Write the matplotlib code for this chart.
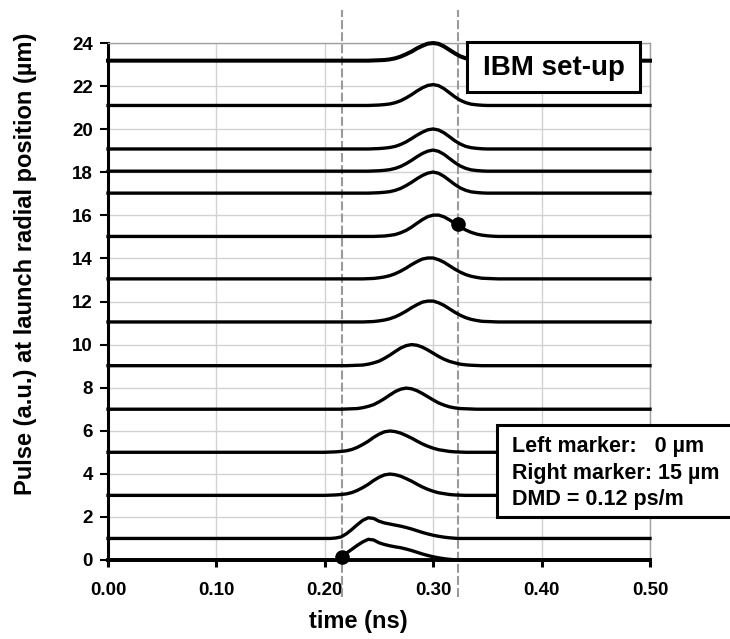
import numpy as np
import matplotlib.pyplot as plt
from matplotlib.patches import Rectangle

plt.rcParams['font.family'] = ['Liberation Sans', 'DejaVu Sans']
plt.rcParams['font.weight'] = 'bold'

# sample times (ns) across the pulse window, the rest of each trace is flat
t_win = [0.200, 0.205, 0.210, 0.215, 0.220, 0.225, 0.230, 0.235, 0.240, 0.245,
         0.250, 0.255, 0.260, 0.265, 0.270, 0.275, 0.280, 0.285, 0.290, 0.295,
         0.300, 0.305, 0.310, 0.315, 0.320, 0.325, 0.330, 0.335, 0.340, 0.345,
         0.350, 0.355, 0.360]
t_start, t_end = 0.0, 0.5

# launch radial positions (um) and the baseline each trace sits on
positions = [0, 1, 3, 5, 7, 9, 11, 13, 15, 17, 18, 19, 21, 23]
baselines = [0.0, 1.0, 3.0, 5.0, 7.0, 9.02, 11.05, 13.05, 15.02, 17.03, 18.05, 19.08, 21.1, 23.18]

# pulse height (a.u.) above baseline at t_win
pulse_0 = [0, 0, 0, 0.12, 0.32, 0.50, 0.68, 0.84, 0.96, 0.93, 0.80, 0.72, 0.66, 0.61, 0.57, 0.51, 0.44,
           0.36, 0.28, 0.21, 0.15, 0.10, 0.06, 0.03, 0.01, 0, 0, 0, 0, 0, 0, 0, 0]
pulse_1 = [0, 0, 0.02, 0.07, 0.22, 0.42, 0.64, 0.84, 0.96, 0.93, 0.80, 0.72, 0.67, 0.62, 0.57, 0.51, 0.44,
           0.36, 0.28, 0.21, 0.15, 0.10, 0.06, 0.03, 0.01, 0, 0, 0, 0, 0, 0, 0, 0]
pulse_3 = [0, 0.01, 0.02, 0.04, 0.07, 0.13, 0.23, 0.36, 0.51, 0.69, 0.84, 0.95, 0.99, 0.96, 0.89, 0.78, 0.66,
           0.52, 0.39, 0.28, 0.19, 0.12, 0.08, 0.04, 0.02, 0.01, 0, 0, 0, 0, 0, 0, 0]
pulse_5 = [0, 0.01, 0.02, 0.04, 0.07, 0.13, 0.23, 0.36, 0.51, 0.69, 0.84, 0.95, 0.99, 0.96, 0.89, 0.78, 0.66,
           0.52, 0.39, 0.28, 0.19, 0.12, 0.08, 0.04, 0.02, 0.01, 0, 0, 0, 0, 0, 0, 0]
pulse_7 = [0, 0, 0, 0, 0.01, 0.02, 0.03, 0.07, 0.13, 0.21, 0.34, 0.49, 0.66, 0.82, 0.93, 0.98, 0.95,
           0.86, 0.73, 0.58, 0.43, 0.29, 0.19, 0.11, 0.06, 0.03, 0.02, 0.01, 0, 0, 0, 0, 0]
pulse_9 = [0, 0, 0, 0, 0, 0.01, 0.02, 0.03, 0.07, 0.13, 0.21, 0.34, 0.49, 0.66, 0.82, 0.93, 0.98,
           0.95, 0.86, 0.73, 0.58, 0.43, 0.30, 0.20, 0.13, 0.07, 0.04, 0.02, 0.01, 0, 0, 0, 0]
pulse_11 = [0, 0, 0, 0, 0, 0, 0, 0, 0.01, 0.02, 0.05, 0.09, 0.15, 0.24, 0.36, 0.50, 0.66,
            0.80, 0.92, 0.97, 0.97, 0.89, 0.77, 0.61, 0.45, 0.31, 0.20, 0.12, 0.07, 0.03, 0.02, 0.01, 0]
pulse_13 = [0, 0, 0, 0, 0, 0, 0, 0, 0.01, 0.02, 0.05, 0.09, 0.15, 0.24, 0.36, 0.50, 0.66,
            0.80, 0.92, 0.97, 0.97, 0.89, 0.77, 0.61, 0.45, 0.31, 0.20, 0.12, 0.07, 0.03, 0.02, 0.01, 0]
pulse_15 = [0, 0, 0, 0, 0, 0, 0, 0, 0, 0, 0.01, 0.02, 0.05, 0.09, 0.17, 0.28, 0.43,
            0.61, 0.78, 0.92, 0.99, 0.99, 0.91, 0.77, 0.61, 0.44, 0.30, 0.19, 0.11, 0.06, 0.03, 0.01, 0]
pulse_17 = [0, 0, 0, 0, 0, 0, 0, 0, 0, 0.01, 0.02, 0.04, 0.07, 0.13, 0.22, 0.35, 0.50,
            0.67, 0.82, 0.93, 0.98, 0.92, 0.78, 0.59, 0.40, 0.24, 0.13, 0.06, 0.03, 0.01, 0, 0, 0]
pulse_18 = [0, 0, 0, 0, 0, 0, 0, 0, 0, 0.01, 0.02, 0.04, 0.07, 0.13, 0.22, 0.35, 0.50,
            0.67, 0.82, 0.93, 0.98, 0.92, 0.78, 0.59, 0.40, 0.24, 0.13, 0.06, 0.03, 0.01, 0, 0, 0]
pulse_19 = [0, 0, 0, 0, 0, 0, 0, 0, 0, 0.01, 0.02, 0.04, 0.07, 0.12, 0.21, 0.33, 0.48,
            0.64, 0.78, 0.89, 0.93, 0.88, 0.75, 0.57, 0.38, 0.23, 0.12, 0.06, 0.03, 0.01, 0, 0, 0]
pulse_21 = [0, 0, 0, 0, 0, 0, 0, 0, 0, 0.01, 0.02, 0.04, 0.07, 0.13, 0.22, 0.35, 0.50,
            0.67, 0.82, 0.93, 0.97, 0.92, 0.78, 0.59, 0.40, 0.24, 0.13, 0.06, 0.03, 0.01, 0, 0, 0]
pulse_23 = [0, 0, 0, 0, 0, 0, 0, 0, 0, 0.01, 0.02, 0.03, 0.06, 0.11, 0.19, 0.30, 0.42,
            0.57, 0.69, 0.79, 0.82, 0.78, 0.66, 0.50, 0.34, 0.20, 0.11, 0.05, 0.03, 0.01, 0, 0, 0]

pulses = [pulse_0, pulse_1, pulse_3, pulse_5, pulse_7, pulse_9, pulse_11, pulse_13,
          pulse_15, pulse_17, pulse_18, pulse_19, pulse_21, pulse_23]

# DMD markers (time ns, trace level) and their guide lines
marker_t = [0.216, 0.3226]
marker_y = [0.15, 15.6]

x_ticks = [0.0, 0.1, 0.2, 0.3, 0.4, 0.5]
y_ticks = [0, 2, 4, 6, 8, 10, 12, 14, 16, 18, 20, 22, 24]

W, H = 730, 639
fig = plt.figure(figsize=(W / 100, H / 100), dpi=100)
ax = fig.add_axes([108 / W, 1 - 560 / H, 542 / W, 517 / H])

t_full = np.array([t_start] + t_win + [t_end])
for pos, base, p in zip(positions, baselines, pulses):
    y = base + np.array([0] + p + [0])
    lw = 2.9 if pos == 23 else 2.4
    ax.plot(t_full, y, color='black', lw=lw, zorder=3, clip_on=False)

for t in marker_t:
    ax.axvline(t, ymin=-0.072, ymax=1.064, color='#9a9a9a', lw=1.5,
               dashes=(4.3, 1.5), clip_on=False, zorder=2)
ax.plot(marker_t, marker_y, 'o', color='black', ms=9.5, zorder=5, clip_on=False)

ax.set_xlim(0, 0.5)
ax.set_ylim(0, 24)
ax.set_xticks(x_ticks)
ax.set_xticklabels([f'{v:.2f}' for v in x_ticks])
ax.set_yticks(y_ticks)
ax.grid(True, color='#d2d2d2', lw=1.0)
ax.set_axisbelow(True)

ax.spines['left'].set_linewidth(2.2)
ax.spines['bottom'].set_linewidth(2.8)
for s in ['top', 'right']:
    ax.spines[s].set_color('#a0a0a0')
    ax.spines[s].set_linewidth(1.0)

ax.tick_params(axis='x', direction='out', length=5, width=2.2, pad=11, labelsize=13.5)
ax.tick_params(axis='y', direction='out', length=6, width=1.5, pad=5, labelsize=13.5)

fig.text(358 / W, 1 - 628 / H, 'time (ns)', ha='center', va='baseline',
         fontsize=17, weight='bold')
fig.text(26 / W, 1 - 264 / H, 'Pulse (a.u.) at launch radial position (\u00b5m)',
         rotation=90, ha='center', va='center', fontsize=17, weight='bold')

# title box
fig.add_artist(Rectangle((467 / W, 1 - 92 / H), 173 / W, 50 / H, transform=fig.transFigure,
                         fc='white', ec='black', lw=2.2, zorder=4))
fig.text(553.5 / W, 1 - 75 / H, 'IBM set-up', ha='center', va='baseline',
         fontsize=20, weight='bold', zorder=5)

# info box, runs off the right edge
fig.add_artist(Rectangle((497 / W, 1 - 517 / H), 260 / W, 92 / H, transform=fig.transFigure,
                         fc='white', ec='black', lw=2.2, zorder=4))
info = ['Left marker:   0 \u00b5m', 'Right marker: 15 \u00b5m', 'DMD = 0.12 ps/m']
for line, yb in zip(info, [452, 479, 505]):
    fig.text(512 / W, 1 - yb / H, line, ha='left', va='baseline',
             fontsize=15.5, weight='bold', zorder=5)

fig.savefig('out.png', dpi=100)
